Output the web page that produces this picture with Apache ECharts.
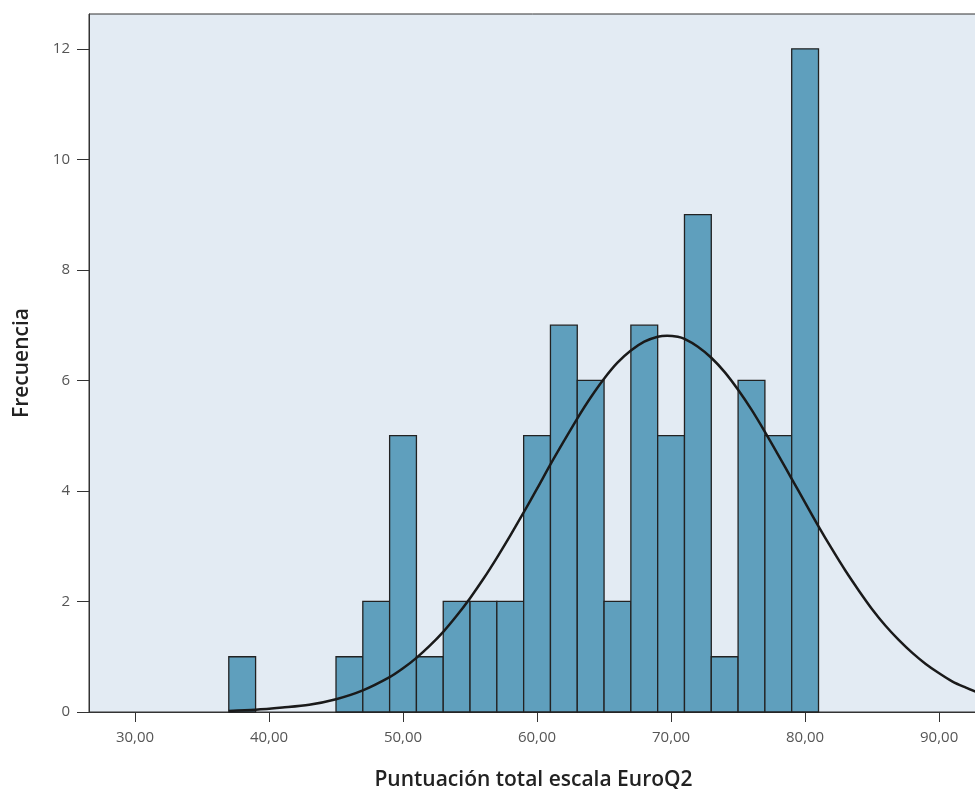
<!DOCTYPE html>
<html>
<head>
<meta charset="utf-8">
<script src="https://cdn.jsdelivr.net/npm/echarts@6/dist/echarts.min.js"></script>
<style>
  html, body { margin: 0; padding: 0; background: #ffffff; }
  #chart { width: 975px; height: 789px; }
</style>
</head>
<body>
<div id="chart"></div>
<script>
// Histogram bins (left edge, width 2) and counts
const binStarts = [37, 39, 41, 43, 45, 47, 49, 51, 53, 55, 57, 59, 61, 63, 65, 67, 69, 71, 73, 75, 77, 79];
const binWidth = 2;
const counts = [1, 0, 0, 0, 1, 2, 5, 1, 2, 2, 2, 5, 7, 6, 2, 7, 5, 9, 1, 6, 5, 12];

// Normal curve
const curveX = [37, 39, 41, 43, 45, 47, 49, 50, 51, 52, 53, 54, 55, 56, 57, 58, 59, 60, 61, 62, 63, 64, 65, 66, 67, 68, 69, 69.7, 70.5, 71, 72, 73, 74, 75, 76, 77, 78, 79, 80, 81, 82, 83, 84, 85, 86, 87, 88, 89, 90, 91, 92, 93];
const curveY = [0.02, 0.04, 0.08, 0.13, 0.23, 0.39, 0.63, 0.79, 0.98, 1.20, 1.45, 1.74, 2.06, 2.41, 2.79, 3.19, 3.61, 4.04, 4.48, 4.90, 5.31, 5.69, 6.03, 6.32, 6.54, 6.70, 6.79, 6.81, 6.79, 6.75, 6.61, 6.41, 6.15, 5.83, 5.47, 5.07, 4.65, 4.22, 3.79, 3.36, 2.95, 2.56, 2.20, 1.86, 1.56, 1.30, 1.07, 0.87, 0.70, 0.55, 0.44, 0.34];

// Tick labels
const xTicks = [30, 40, 50, 60, 70, 80, 90];
const yTicks = [0, 2, 4, 6, 8, 10, 12];

const xTitle = 'Puntuación total escala EuroQ2';
const yTitle = 'Frecuencia';

const barData = [];
binStarts.forEach((s, i) => { if (counts[i] > 0) barData.push([s, s + binWidth, counts[i]]); });
const curveData = curveX.map((x, i) => [x, curveY[i]]);

const chart = echarts.init(document.getElementById('chart'), null, { renderer: 'canvas' });
const FONT = '"Open Sans", "Noto Sans", sans-serif';

chart.setOption({
  animation: false,
  backgroundColor: '#ffffff',
  grid: {
    left: 89, right: -3, top: 14, bottom: 77,
    containLabel: false,
    outerBoundsMode: 'none',
    show: true,
    backgroundColor: '#e3ebf3',
    borderColor: '#333333',
    borderWidth: 1
  },
  xAxis: {
    type: 'value',
    min: 26.57,
    max: 92.9,
    name: xTitle,
    nameLocation: 'middle',
    nameGap: 58,
    nameTextStyle: { fontFamily: FONT, fontSize: 21, color: '#222222', fontWeight: 600 },
    axisLine: { show: true, lineStyle: { color: '#333333', width: 1 } },
    axisTick: { show: true, customValues: xTicks, length: 10, inside: false, lineStyle: { color: '#333333', width: 1 } },
    axisLabel: {
      customValues: xTicks,
      margin: 18,
      fontFamily: FONT, fontSize: 15, color: '#555555',
      formatter: v => v.toFixed(2).replace('.', ',')
    },
    splitLine: { show: false }
  },
  yAxis: {
    type: 'value',
    min: 0,
    max: 12.63,
    name: yTitle,
    nameLocation: 'middle',
    nameGap: 56,
    nameRotate: 90,
    nameTextStyle: { fontFamily: FONT, fontSize: 21, color: '#222222', fontWeight: 600 },
    axisLine: { show: true, lineStyle: { color: '#333333', width: 1 } },
    axisTick: { show: true, customValues: yTicks, length: 12, lineStyle: { color: '#333333', width: 1 } },
    axisLabel: {
      customValues: yTicks,
      margin: 19,
      fontFamily: FONT, fontSize: 15, color: '#555555'
    },
    splitLine: { show: false }
  },
  series: [
    {
      type: 'custom',
      data: barData,
      encode: { x: [0, 1], y: 2 },
      renderItem: function (params, api) {
        const p0 = api.coord([api.value(0), 0]);
        const p1 = api.coord([api.value(1), api.value(2)]);
        return {
          type: 'rect',
          shape: { x: p0[0], y: p1[1], width: p1[0] - p0[0], height: p0[1] - p1[1] },
          style: { fill: '#5f9fbd', stroke: '#222222', lineWidth: 1.3 }
        };
      },
      z: 2
    },
    {
      type: 'line',
      data: curveData,
      smooth: 0.3,
      showSymbol: false,
      lineStyle: { color: '#1a1a1a', width: 2.5 },
      z: 3
    }
  ]
});
</script>
</body>
</html>
